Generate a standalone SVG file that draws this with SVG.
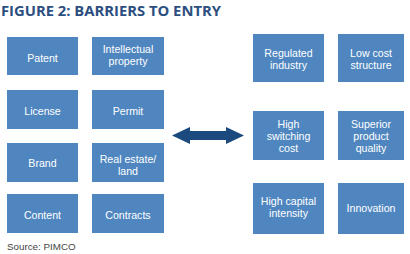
<svg xmlns="http://www.w3.org/2000/svg" width="410" height="254" viewBox="0 0 410 254">
<style>
.box{fill:#4f86c0}
.t{font-family:"Liberation Sans",Arial,sans-serif;font-size:10.6px;fill:#ffffff;text-anchor:middle}
.title{font-family:"Open Sans","Noto Sans",sans-serif;font-size:14.5px;font-weight:bold;fill:#2c4f7f}
.src{font-family:"Liberation Sans",Arial,sans-serif;font-size:9.8px;fill:#444444}
</style>
<rect width="410" height="254" fill="#ffffff"/>
<text class="title" x="1" y="16" textLength="220" lengthAdjust="spacingAndGlyphs">FIGURE 2: BARRIERS TO ENTRY</text>
<g id="patent"><rect class="box" x="7" y="37" width="71" height="38"/><text class="t" x="42.5" y="61.5">Patent</text></g>
<g id="ip"><rect class="box" x="92" y="37" width="72" height="38"/><text class="t" x="128" y="52.5">Intellectual</text><text class="t" x="128" y="64.5">property</text></g>
<g id="license"><rect class="box" x="7" y="90" width="71" height="39"/><text class="t" x="42.5" y="114.5">License</text></g>
<g id="permit"><rect class="box" x="92" y="90" width="72" height="39"/><text class="t" x="128" y="114.5">Permit</text></g>
<g id="brand"><rect class="box" x="7" y="143" width="71" height="39"/><text class="t" x="42.5" y="166.5">Brand</text></g>
<g id="realestate"><rect class="box" x="92" y="143" width="72" height="39"/><text class="t" x="128" y="162.5">Real estate/</text><text class="t" x="128" y="174.5">land</text></g>
<g id="content"><rect class="box" x="7" y="194" width="71" height="39"/><text class="t" x="42.5" y="218.5">Content</text></g>
<g id="contracts"><rect class="box" x="92" y="194" width="72" height="39"/><text class="t" x="128" y="218.5">Contracts</text></g>
<g id="regulated"><rect class="box" x="253" y="34" width="71" height="48"/><text class="t" x="288.5" y="56.5">Regulated</text><text class="t" x="288.5" y="68.5">industry</text></g>
<g id="lowcost"><rect class="box" x="338" y="34" width="66" height="48"/><text class="t" x="371" y="56.5">Low cost</text><text class="t" x="371" y="68.5">structure</text></g>
<g id="switching"><rect class="box" x="253" y="111" width="71" height="49"/><text class="t" x="288.5" y="127.5">High</text><text class="t" x="288.5" y="139.5">switching</text><text class="t" x="288.5" y="151.5">cost</text></g>
<g id="superior"><rect class="box" x="338" y="111" width="66" height="49"/><text class="t" x="371" y="127.5">Superior</text><text class="t" x="371" y="139.5">product</text><text class="t" x="371" y="151.5">quality</text></g>
<g id="capital"><rect class="box" x="253" y="183" width="71" height="51"/><text class="t" x="288.5" y="204.5">High capital</text><text class="t" x="288.5" y="216.5">intensity</text></g>
<g id="innovation"><rect class="box" x="338" y="183" width="66" height="51"/><text class="t" x="371" y="211.5">Innovation</text></g>
<g id="connectors">
<polygon points="172,135.5 190,127 190,131 226,131 226,127 244,135.5 226,144 226,140 190,140 190,144" fill="#1b4a7e"/>
</g>
<text class="src" x="7" y="250">Source: PIMCO</text>
</svg>
